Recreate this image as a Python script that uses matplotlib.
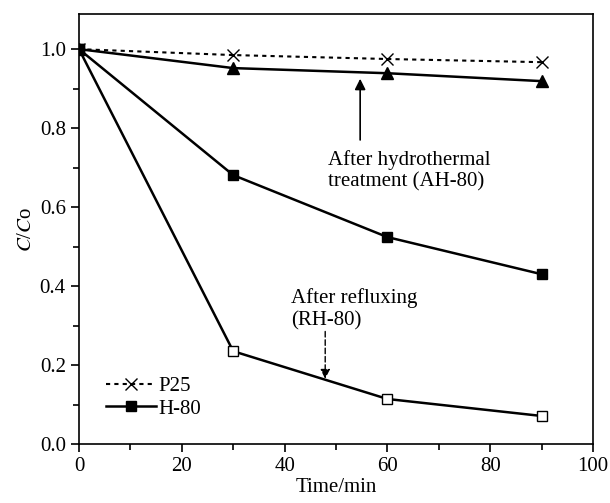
import matplotlib
matplotlib.use('Agg')
import matplotlib.pyplot as plt
from matplotlib.ticker import MultipleLocator

plt.rcParams['font.family'] = 'Liberation Serif'
plt.rcParams['mathtext.fontset'] = 'stix'

# datos
tiempo = [0, 30, 60, 90]
p25 = [1.0, 0.985, 0.975, 0.967]
ah80 = [1.0, 0.952, 0.939, 0.919]
h80 = [1.0, 0.681, 0.524, 0.430]
rh80 = [1.0, 0.235, 0.114, 0.071]

fig = plt.figure(figsize=(6.10, 5.03), dpi=100)
ax = fig.add_axes([79/610, 59/503, (593-79)/610, (444-14)/503])

ax.plot(tiempo, p25, color='black', linestyle=(0, (2, 2)), lw=1.5,
        marker='x', ms=9, mew=1.0, label='P25')
ax.plot(tiempo, rh80, color='black', lw=1.8, marker='s', ms=7,
        mfc='white', mew=1.0)
ax.plot(tiempo, ah80, color='black', lw=1.8, marker='^', ms=8)
ax.plot(tiempo, h80, color='black', lw=1.8, marker='s', ms=7, label='H-80')

ax.set_xlim(0, 100)
ax.set_ylim(0, 1.089)
ax.xaxis.set_major_locator(MultipleLocator(20))
ax.xaxis.set_minor_locator(MultipleLocator(10))
ax.yaxis.set_major_locator(MultipleLocator(0.2))
ax.yaxis.set_minor_locator(MultipleLocator(0.1))
ax.yaxis.set_major_formatter(plt.FuncFormatter(lambda v, p: f'{v:.1f}'))
ax.tick_params(which='both', direction='out', top=False, right=False,
               labelsize=15, width=1.2)
ax.tick_params(which='major', length=6)
ax.tick_params(which='minor', length=4)
for s in ax.spines.values():
    s.set_linewidth(1.2)

ax.set_xlabel('Time/min', fontsize=15, labelpad=1)
ax.set_ylabel('$C$/$C$o', fontsize=15, labelpad=3)

# anotaciones
ax.annotate('', xy=(54.7, 0.925), xytext=(54.7, 0.77),
            arrowprops=dict(arrowstyle='-|>', color='black', lw=1.2,
                            mutation_scale=16, shrinkA=0, shrinkB=0))
ax.text(48.5, 0.745, 'After hydrothermal\ntreatment (AH-80)', fontsize=15,
        ha='left', va='top', linespacing=1.2)

ax.annotate('', xy=(47.9, 0.165), xytext=(47.9, 0.285),
            arrowprops=dict(arrowstyle='-|>', color='black', lw=1.0,
                            linestyle=(0, (4, 2)), mutation_scale=14,
                            shrinkA=0, shrinkB=0))
ax.text(41.2, 0.395, 'After refluxing\n(RH-80)', fontsize=15,
        ha='left', va='top', linespacing=1.2)

ax.legend(loc='lower left', bbox_to_anchor=(0.025, 0.025), frameon=False,
          fontsize=15, handlelength=2.4, handletextpad=0.1,
          labelspacing=0.15, borderaxespad=0.3)

fig.savefig('out.png', dpi=100)
